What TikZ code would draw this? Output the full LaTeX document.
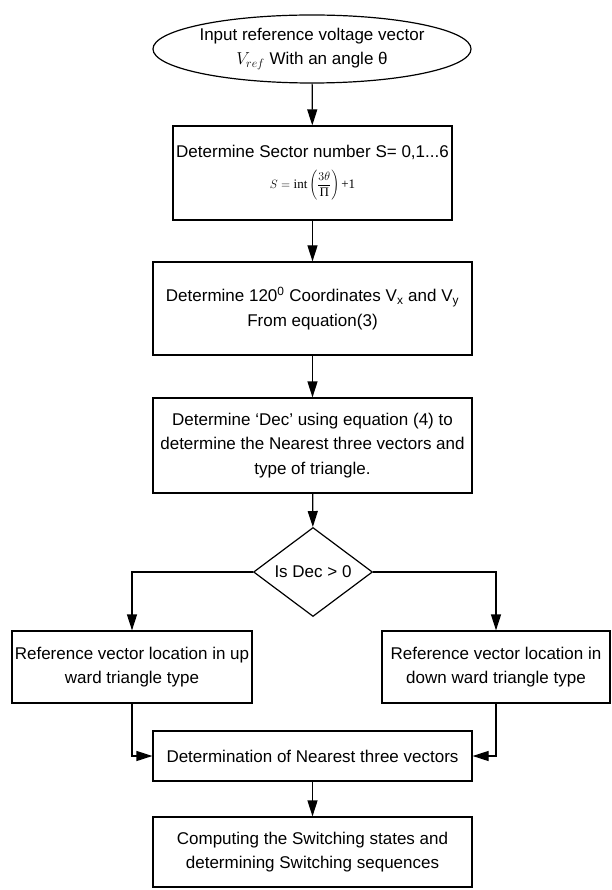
\documentclass[tikz,border=0pt]{standalone}
\usepackage{fontspec}
\setmainfont{Liberation Sans}
\newfontfamily\eqfont{Liberation Serif}
\usetikzlibrary{shapes.geometric, arrows.meta}
\begin{document}
\begin{tikzpicture}[x=1pt, y=-1pt, every node/.style={draw, line width=1.2pt, align=center, inner sep=1pt, font=\fontsize{17}{24.5}\selectfont}, process/.style={rectangle, minimum width=319pt, minimum height=94pt}, start/.style={ellipse, minimum width=262pt, minimum height=68pt, inner sep=0pt}, decision/.style={diamond, minimum width=119pt, minimum height=86pt, inner sep=0pt}, flow/.style={line width=1.2pt, -{Triangle[length=16pt, width=10pt]}}]
		\useasboundingbox (0,0) rectangle (611,890);
		\node[start] (inp) at (312,49) {Input reference voltage vector\\ $V_{ref}$ With an angle θ};
		\node[process, minimum width=279pt] (sec) at (312.5,173) {Determine Sector number S= 0,1...6\\[6pt] {\fontsize{13}{15}\selectfont $\displaystyle S=\mbox{\eqfont int}\left(\frac{3\theta}{\mbox{\eqfont Π}}\right)\mbox{\eqfont +1}$}};
		\node[process, minimum height=93pt] (coord) at (312.5,308.5) {Determine 120\textsuperscript{0} Coordinates V\textsubscript{x} and V\textsubscript{y}\\ From equation(3)};
		\node[process, minimum height=95pt] (dec) at (312.5,445.5) {Determine `Dec' using equation (4) to\\ determine the Nearest three vectors and\\ type of triangle.};
		\node[decision] (isdec) at (313,572) {Is Dec > 0};
		\node[process, minimum width=240pt, minimum height=72pt] (up) at (132,667) {Reference vector location in up\\ ward triangle type};
		\node[process, minimum width=228pt, minimum height=72pt] (down) at (496,667) {Reference vector location in\\ down ward triangle type};
		\node[process, minimum height=50pt] (near) at (312.5,756) {Determination of Nearest three vectors};
		\node[process, minimum height=70pt] (comp) at (312.5,852) {Computing the Switching states and\\ determining Switching sequences};
		\draw[flow] (inp) -- (sec);
		\draw[flow] (sec) -- (coord);
		\draw[flow] (coord) -- (dec);
		\draw[flow] (dec) -- (isdec);
		\draw[flow] (isdec.west) -| (up.north);
		\draw[flow] (isdec.east) -| (down.north);
		\draw[flow] (up.south) |- (near.west);
		\draw[flow] (down.south) |- (near.east);
		\draw[flow] (near) -- (comp);
	\end{tikzpicture}
\end{document}
